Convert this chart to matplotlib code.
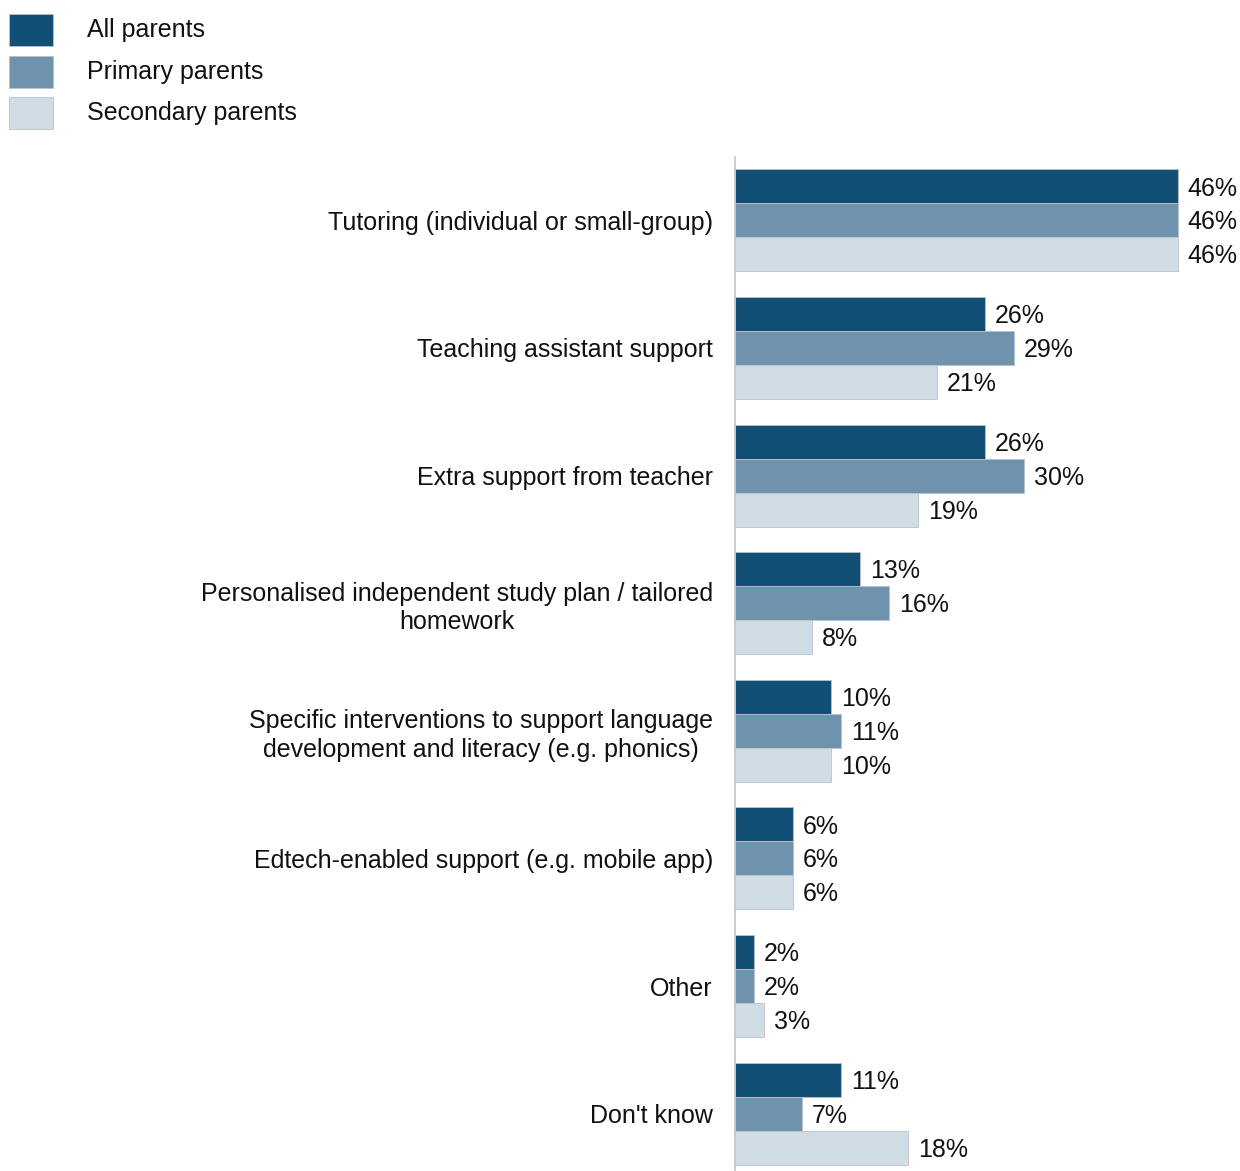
import numpy as np
import matplotlib
matplotlib.use("Agg")
import matplotlib.pyplot as plt
from matplotlib.patches import Rectangle

plt.rcParams['font.family'] = ['Liberation Sans', 'DejaVu Sans']

# support types and share of parents choosing each
categories = [
    "Tutoring (individual or small-group)",
    "Teaching assistant support",
    "Extra support from teacher",
    "Personalised independent study plan / tailored\nhomework",
    "Specific interventions to support language\ndevelopment and literacy (e.g. phonics)",
    "Edtech-enabled support (e.g. mobile app)",
    "Other",
    "Don't know",
]
all_parents = [46, 26, 26, 13, 10, 6, 2, 11]
primary_parents = [46, 29, 30, 16, 11, 6, 2, 7]
secondary_parents = [46, 21, 19, 8, 10, 6, 3, 18]

series_names = ["All parents", "Primary parents", "Secondary parents"]
colors = ["#124f74", "#7093ad", "#d0dde5"]
FS = 18

W, H = 1240, 1171
fig = plt.figure(figsize=(W / 100, H / 100), dpi=100)

# axes placed in pixel terms: zero line at x=735, 9.63 px per percentage point
x0 = 735
px_per_pct = 443 / 46
xmax = 50
top_px, bottom_px = 156.6, 1177.4
ax = fig.add_axes([x0 / W, (H - bottom_px) / H,
                   xmax * px_per_pct / W, (bottom_px - top_px) / H])

n = len(categories)
y = np.arange(n)
bh = 0.266
offsets = [-bh, 0, bh]
for vals, off, col, name in zip([all_parents, primary_parents, secondary_parents],
                                offsets, colors, series_names):
    bars = ax.barh(y + off, vals, height=bh, color=col, edgecolor="#b8c2c9",
                   linewidth=0.6, label=name)
    for b, v in zip(bars, vals):
        ax.annotate(f"{v}%", (b.get_width(), b.get_y() + b.get_height() / 2),
                    xytext=(7, -1.5), textcoords="offset points",
                    va="center", ha="left", fontsize=FS, color="#111111")

ax.set_xlim(0, xmax)
ax.set_ylim(n - 0.5, -0.5)
ax.set_yticks(y)
ax.set_yticklabels(categories, fontsize=FS, multialignment="center",
                   color="#111111", linespacing=1.25)
ax.tick_params(axis="y", length=0, pad=16)
ax.set_xticks([])
for side in ["top", "right", "bottom"]:
    ax.spines[side].set_visible(False)
ax.spines["left"].set_color("#c4c4c4")
ax.spines["left"].set_linewidth(1.2)

# legend drawn by hand in pixel coordinates (top-left origin)
legend_tops = [14, 56, 97]
for top, col, name in zip(legend_tops, colors, series_names):
    fig.patches.append(Rectangle((9 / W, (H - top - 32) / H), 44 / W, 32 / H,
                                 transform=fig.transFigure, facecolor=col,
                                 edgecolor="#b8c2c9", linewidth=0.6))
    fig.text(87 / W, (H - top - 16) / H, name, fontsize=FS, va="center",
             ha="left", color="#111111")

fig.savefig("out.png", dpi=100)
